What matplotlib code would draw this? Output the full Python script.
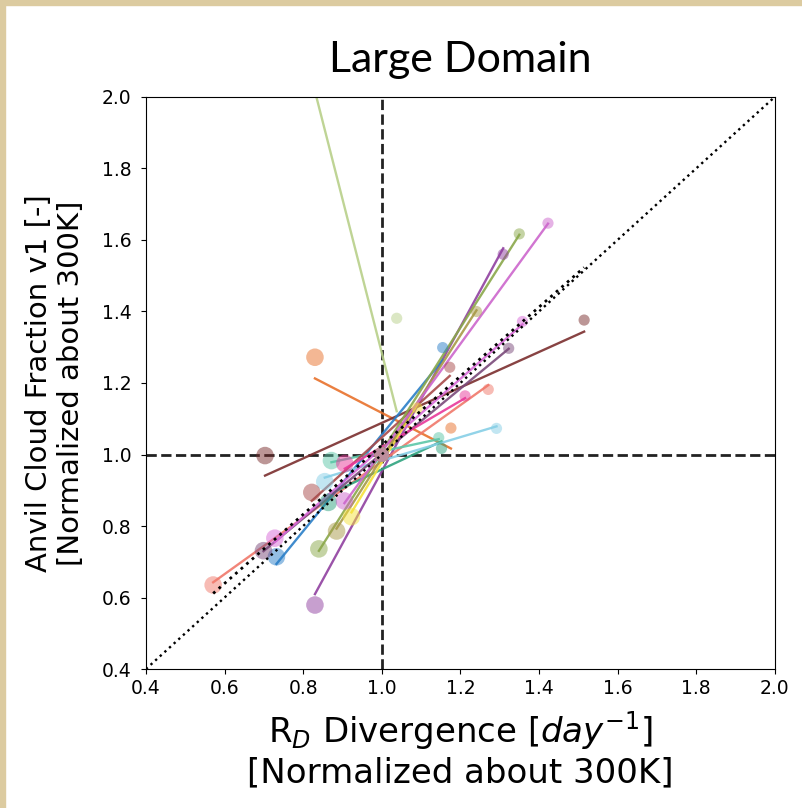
import numpy as np
import matplotlib.pyplot as plt
from matplotlib.patches import Rectangle

# one entry per model; values normalized by the 300 K run, so 300 K sits at (1, 1)
colors = ['#e8712b', '#7b2e2e', '#9040a0', '#f0786a', '#2a7fc8', '#5cc7a8',
          '#2ea37f', '#86cfe6', '#a84a4a', '#7a4a7a', '#d86ad8', '#e8389a',
          '#f5e23c', '#a89a48', '#8aa84a', '#b8d08a', '#cc66cc']
x_295 = [0.830, 0.703, 0.830, 0.571, 0.732, 0.872, 0.864, 0.855,
         0.822, 0.699, 0.728, 0.906, 0.923, 0.885, 0.840, 0.600, 0.905]
y_295 = [1.272, 0.997, 0.579, 0.635, 0.714, 0.983, 0.866, 0.924,
         0.894, 0.731, 0.766, 0.975, 0.826, 0.786, 0.736, 3.030, 0.870]
x_305 = [1.176, 1.515, 1.309, 1.271, 1.155, 1.145, 1.152, 1.292,
         1.173, 1.323, 1.358, 1.212, 1.090, 1.241, 1.350, 1.038, 1.423]
y_305 = [1.074, 1.376, 1.560, 1.182, 1.299, 1.047, 1.017, 1.073,
         1.244, 1.297, 1.372, 1.164, 1.130, 1.400, 1.617, 1.381, 1.647]
x_300 = np.ones(len(colors))
y_300 = np.ones(len(colors))
sizes = [160, 110, 65]   # 295 K, 300 K, 305 K

ticks = [0.4, 0.6, 0.8, 1.0, 1.2, 1.4, 1.6, 1.8, 2.0]

fig = plt.figure(figsize=(8.02, 8.08), dpi=100)
ax = fig.add_axes([0.182, 0.172, 0.784, 0.708])

# tan slide frame on the left and top
fig.patches.append(Rectangle((0, 0), 0.006, 1, transform=fig.transFigure,
                             color='#dccba0', zorder=0))
fig.patches.append(Rectangle((0, 0.994), 1, 0.006, transform=fig.transFigure,
                             color='#dccba0', zorder=0))

all_x, all_y = [], []
for i, c in enumerate(colors):
    xs = np.array([x_295[i], x_300[i], x_305[i]])
    ys = np.array([y_295[i], y_300[i], y_305[i]])
    all_x.extend(xs)
    all_y.extend(ys)
    ax.scatter(xs, ys, s=sizes, color=c, alpha=0.5, edgecolors='none', zorder=3)
    m, b = np.polyfit(xs, ys, 1)
    xl = np.array([xs.min(), xs.max()])
    ax.plot(xl, m * xl + b, color=c, lw=1.7, alpha=0.9, zorder=2)

# fit through every model point
all_x = np.array(all_x)
all_y = np.array(all_y)
keep = all_y < 2.0
m, b = np.polyfit(all_x[keep], all_y[keep], 1)
xl = np.array([all_x.min(), all_x[keep].max()])
ax.plot(xl, m * xl + b, 'k:', lw=2, zorder=4)

ax.plot([0.4, 2.0], [0.4, 2.0], 'k:', lw=1.7, zorder=4)
ax.axvline(1.0, color='#222222', ls='--', lw=2, zorder=1)
ax.axhline(1.0, color='#222222', ls='--', lw=2, zorder=1)

ax.set_xlim(0.4, 2.0)
ax.set_ylim(0.4, 2.0)
ax.set_xticks(ticks)
ax.set_yticks(ticks)
ax.tick_params(labelsize=13.5)
ax.tick_params(axis='y', pad=7)
ax.set_xlabel('R$_D$ Divergence [$day^{-1}$]\n[Normalized about 300K]',
              fontsize=24.5, labelpad=8)
ax.set_ylabel('Anvil Cloud Fraction v1 [-]\n[Normalized about 300K]',
              fontsize=21, labelpad=12)
ax.set_title('Large Domain', fontsize=31, family='Lato', pad=18)

fig.savefig('out.png', dpi=100)
